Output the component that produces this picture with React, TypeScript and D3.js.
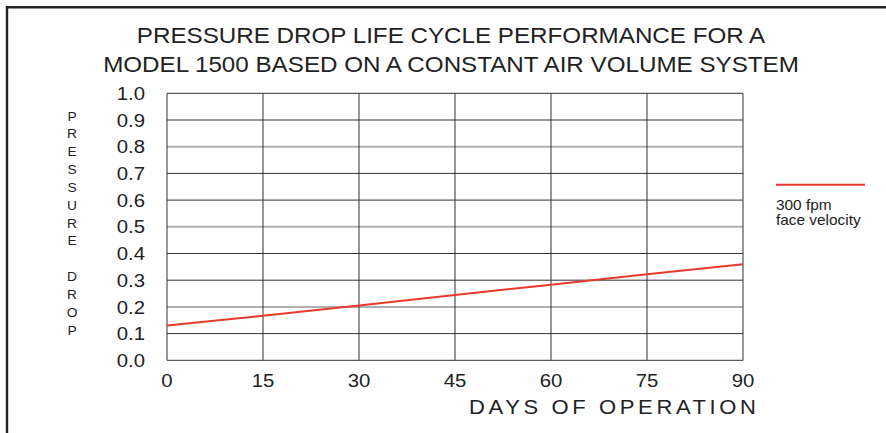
import React, { useEffect, useRef } from 'react';
import * as d3 from 'd3';

// Data
const days = [0, 15, 30, 45, 60, 75, 90];
const pressure300 = [0.13, 0.167, 0.205, 0.245, 0.283, 0.322, 0.36];
const xTicks = [0, 15, 30, 45, 60, 75, 90];
const yTicks = [0, 0.1, 0.2, 0.3, 0.4, 0.5, 0.6, 0.7, 0.8, 0.9, 1.0];
const greyTicks = [0.2, 0.5, 0.8];
const titleLines = [
  'PRESSURE DROP LIFE CYCLE PERFORMANCE FOR A',
  'MODEL 1500 BASED ON A CONSTANT AIR VOLUME SYSTEM'
];
const yTitle = 'PRESSURE DROP';
const xTitle = 'DAYS OF OPERATION';
const legendLines = ['300 fpm', 'face velocity'];

const FONT = '"Liberation Sans", Arial, Helvetica, sans-serif';
const INK = '#222';
const RED = '#e8392c';
// the original lettering is a bit wider than Arial
const SX = 1.1;
const at = (x: number, y: number) => `translate(${x},${y}) scale(${SX},1)`;

export default function App() {
  const svgRef = useRef<SVGSVGElement>(null);

  useEffect(() => {
    const svg = d3.select(svgRef.current);
    svg.selectAll('*').remove();

    const width = 886;
    const height = 433;
    const plot = { left: 167, right: 743, top: 93.3, bottom: 360.3 };

    svg.attr('width', width).attr('height', height)
      .style('font-family', FONT);

    // Frame (top and left edges)
    svg.append('line')
      .attr('x1', 7).attr('x2', width).attr('y1', 7.3).attr('y2', 7.3)
      .attr('stroke', INK).attr('stroke-width', 2.6);
    svg.append('line')
      .attr('x1', 7).attr('x2', 7).attr('y1', 6).attr('y2', height)
      .attr('stroke', INK).attr('stroke-width', 2.4);

    // Title
    svg.selectAll('text.title')
      .data(titleLines)
      .join('text')
      .attr('class', 'title')
      .attr('transform', (d, i) => at(451, 43.3 + i * 28.4))
      .attr('text-anchor', 'middle')
      .attr('font-size', '22px')
      .attr('fill', INK)
      .text(d => d);

    const x = d3.scaleLinear().domain([0, 90]).range([plot.left, plot.right]);
    const y = d3.scaleLinear().domain([0, 1]).range([plot.bottom, plot.top]);

    const g = svg.append('g');
    const isGrey = (d: number) => greyTicks.some(t => Math.abs(t - d) < 1e-6);

    // Horizontal grid
    g.selectAll('line.hgrid')
      .data(yTicks)
      .join('line')
      .attr('class', 'hgrid')
      .attr('x1', plot.left).attr('x2', plot.right)
      .attr('y1', d => y(d)).attr('y2', d => y(d))
      .attr('stroke', d => isGrey(d) ? '#b0b0b0' : '#333')
      .attr('stroke-width', d => isGrey(d) ? 2 : 1);

    // Vertical grid
    g.selectAll('line.vgrid')
      .data(xTicks)
      .join('line')
      .attr('class', 'vgrid')
      .attr('x1', d => x(d)).attr('x2', d => x(d))
      .attr('y1', plot.top).attr('y2', plot.bottom)
      .attr('stroke', '#333')
      .attr('stroke-width', 1);

    // Y tick labels
    g.selectAll('text.ytick')
      .data(yTicks)
      .join('text')
      .attr('class', 'ytick')
      .attr('transform', d => at(145, y(d)))
      .attr('dy', '0.36em')
      .attr('text-anchor', 'end')
      .attr('font-size', '18.5px')
      .attr('fill', INK)
      .text(d => d3.format('.1f')(d));

    // X tick labels
    g.selectAll('text.xtick')
      .data(xTicks)
      .join('text')
      .attr('class', 'xtick')
      .attr('transform', d => at(x(d), 387))
      .attr('text-anchor', 'middle')
      .attr('font-size', '18.5px')
      .attr('fill', INK)
      .text(d => d);

    // X axis title, letter spaced
    svg.append('text')
      .attr('transform', at(469, 414))
      .attr('font-size', '20px')
      .attr('letter-spacing', '3.3px')
      .attr('fill', INK)
      .text(xTitle);

    // Y axis title, stacked letters
    const chars = yTitle.split('');
    const step = (330 - 116) / (chars.length - 1);
    svg.selectAll('text.ychar')
      .data(chars)
      .join('text')
      .attr('class', 'ychar')
      .attr('transform', (d, i) => at(72, 116 + i * step))
      .attr('dy', '0.36em')
      .attr('text-anchor', 'middle')
      .attr('font-size', '12.5px')
      .attr('fill', INK)
      .text(d => d);

    // Data line
    const line = d3.line<number>()
      .x((d, i) => x(days[i]))
      .y(d => y(d));
    g.append('path')
      .datum(pressure300)
      .attr('d', line)
      .attr('fill', 'none')
      .attr('stroke', RED)
      .attr('stroke-width', 2);

    // Legend
    svg.append('line')
      .attr('x1', 776).attr('x2', 865)
      .attr('y1', 184.7).attr('y2', 184.7)
      .attr('stroke', RED)
      .attr('stroke-width', 2);
    svg.selectAll('text.legend')
      .data(legendLines)
      .join('text')
      .attr('class', 'legend')
      .attr('transform', (d, i) => at(776, 209.5 + i * 15))
      .attr('font-size', '14px')
      .attr('fill', INK)
      .text(d => d);
  }, []);

  return (
    <svg ref={svgRef} style={{ position: 'absolute', left: 0, top: 0, display: 'block' }} />
  );
}
